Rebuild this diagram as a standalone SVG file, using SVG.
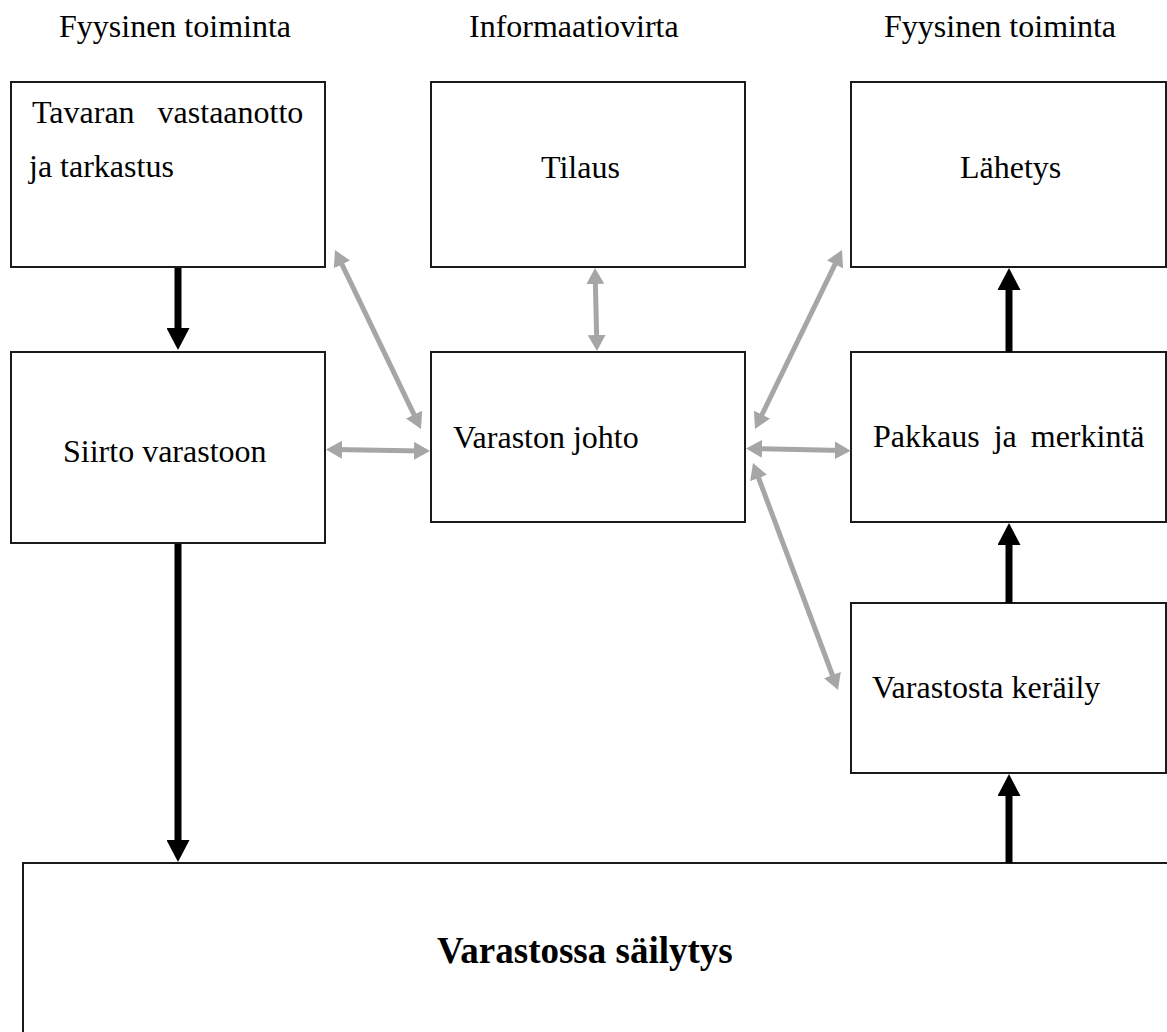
<svg xmlns="http://www.w3.org/2000/svg" width="1167" height="1032" viewBox="0 0 1167 1032">
<style>
  .box { fill: #ffffff; stroke: #1a1a1a; stroke-width: 2; }
  .t { font-family: "Liberation Serif", "Times New Roman", serif; font-size: 32px; fill: #000000; }
  .tb { font-family: "Liberation Serif", "Times New Roman", serif; font-size: 37px; font-weight: bold; fill: #000000; }
  .blk { stroke: #000000; stroke-width: 7; fill: none; marker-end: url(#bhead); }
  .gry { stroke: #a6a6a6; stroke-width: 5; fill: none; marker-start: url(#ghead); marker-end: url(#ghead); }
</style>
<defs>
  <marker id="bhead" markerUnits="userSpaceOnUse" viewBox="0 0 22 23" markerWidth="22" markerHeight="23" refX="12" refY="11.5" orient="auto">
    <path d="M0,0 L22,11.5 L0,23 z" fill="#000000"/>
  </marker>
  <marker id="ghead" markerUnits="userSpaceOnUse" viewBox="0 0 16 18" markerWidth="16" markerHeight="18" refX="8" refY="9" orient="auto-start-reverse">
    <path d="M0,0 L16,9 L0,18 z" fill="#a6a6a6"/>
  </marker>
</defs>
<rect width="1167" height="1032" fill="#ffffff"/>

<g id="headers">
  <text class="t" x="59" y="37">Fyysinen toiminta</text>
  <text class="t" x="469" y="37">Informaatiovirta</text>
  <text class="t" x="884" y="37">Fyysinen toiminta</text>
</g>

<g id="node-vastaanotto">
  <rect class="box" x="11" y="82" width="314" height="185"/>
  <text class="t" x="32" y="123" word-spacing="15">Tavaran vastaanotto</text>
  <text class="t" x="29" y="177">ja tarkastus</text>
</g>
<g id="node-tilaus">
  <rect class="box" x="431" y="82" width="314" height="185"/>
  <text class="t" x="541" y="178">Tilaus</text>
</g>
<g id="node-lahetys">
  <rect class="box" x="851" y="82" width="315" height="185"/>
  <text class="t" x="960" y="178">Lähetys</text>
</g>
<g id="node-siirto">
  <rect class="box" x="11" y="352" width="314" height="191"/>
  <text class="t" x="63" y="462">Siirto varastoon</text>
</g>
<g id="node-johto">
  <rect class="box" x="431" y="352" width="314" height="170"/>
  <text class="t" x="453" y="448">Varaston johto</text>
</g>
<g id="node-pakkaus">
  <rect class="box" x="851" y="352" width="315" height="170"/>
  <text class="t" x="873" y="447" word-spacing="6">Pakkaus ja merkintä</text>
</g>
<g id="node-keraily">
  <rect class="box" x="851" y="603" width="315" height="170"/>
  <text class="t" x="872" y="698">Varastosta keräily</text>
</g>
<g id="node-sailytys">
  <rect class="box" x="23" y="863" width="1200" height="300"/>
  <text class="tb" x="437" y="963">Varastossa säilytys</text>
</g>

<g id="connectors">
  <line class="blk" x1="178" y1="268" x2="178" y2="340"/>
  <line class="blk" x1="178" y1="544" x2="178" y2="852"/>
  <line class="blk" x1="1009" y1="352" x2="1009" y2="278"/>
  <line class="blk" x1="1009" y1="603" x2="1009" y2="533"/>
  <line class="blk" x1="1009" y1="863" x2="1009" y2="784"/>

  <line class="gry" x1="338.5" y1="257.2" x2="417.5" y2="421.8"/>
  <line class="gry" x1="595.2" y1="276" x2="596.8" y2="343"/>
  <line class="gry" x1="334" y1="449.6" x2="422" y2="450.9"/>
  <line class="gry" x1="838.5" y1="257.2" x2="758.5" y2="421.8"/>
  <line class="gry" x1="754" y1="448.7" x2="842.7" y2="450.5"/>
  <line class="gry" x1="755.8" y1="470.5" x2="835.2" y2="682.5"/>
</g>
</svg>
